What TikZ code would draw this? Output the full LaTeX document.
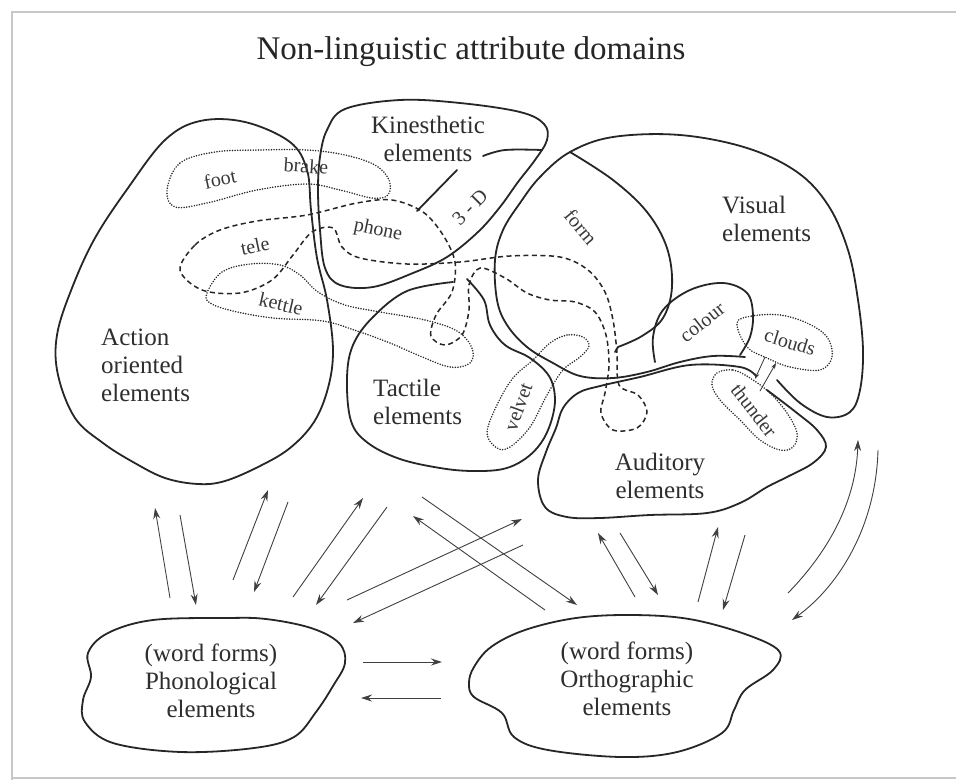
\documentclass[tikz,border=0pt]{standalone}
\usepackage{fontspec}
\setmainfont{Liberation Serif}
\usetikzlibrary{arrows.meta}
\begin{document}
\begin{tikzpicture}[x=1pt,y=-1pt,
  region/.style={line width=1.8pt, black!85, line join=round, line cap=round},
  dotloop/.style={line width=1.7pt, black!85, line cap=round, dash pattern=on 0pt off 2.6pt},
  dashloop/.style={line width=1.5pt, black!85, dash pattern=on 5pt off 3.5pt},
  arr/.style={line width=0.9pt, black!75, -{Stealth[length=11pt,width=7pt]}},
  sarr/.style={line width=0.8pt, black!80, -{Stealth[length=6pt,width=4pt]}},
  big/.style={font=\fontsize{25}{28}\selectfont, text=black!82, inner sep=0pt},
  small/.style={font=\fontsize{20}{22}\selectfont, text=black!78, inner sep=0pt}]
\useasboundingbox (0,0) rectangle (956,780);
\fill[white] (0,0) rectangle (956,780);
% page frame
\draw[black!22, line width=2.2pt] (12,780) -- (12,12) -- (956,12);
\draw[black!22, line width=1.6pt] (12,778) -- (956,778);

% ---------- title ----------
\node[font=\fontsize{33}{36}\selectfont, text=black!85, inner sep=0pt] (title) at (471,52) {Non-linguistic attribute domains};

% ---------- Action region ----------
\draw[region] plot[smooth cycle, tension=0.6] coordinates {
 (200,121) (245,122) (290,142) (307,170) (311,210) (317,258) (327,300) (333,350)
 (328,388) (314,422) (290,448) (260,466) (225,481) (198,484) (165,478) (133,462)
 (103,443) (75,418) (58,375) (57,335) (72,288) (95,238) (128,188) (165,140)};

% ---------- Kinesthetic region ----------
\draw[region] plot[smooth cycle, tension=0.6] coordinates {
 (320,157) (327,130) (345,109) (400,100) (460,103) (520,112) (544,124) (547,140)
 (535,160) (518,182) (500,207) (478,232) (447,257) (413,273) (373,287) (340,285)
 (325,268) (320,230) (318,190)};
\draw[region] plot[smooth, tension=0.6] coordinates {(483,156) (505,150) (542,150)};
\draw[region] (457,170) -- (417,211);

% ---------- Tactile region ----------
\draw[region] plot[smooth, tension=0.6] coordinates {
 (453,282) (407,291) (373,317) (353,345) (347,378) (351,421) (368,443) (400,459)
 (440,468) (472,471) (503,469) (525,459) (541,443) (551,422) (555,398) (549,376)
 (530,358) (505,345) (490,325) (484,300) (467,279)};

% ---------- Visual region ----------
\draw[region] plot[smooth, tension=0.6] coordinates {
 (777,380) (800,403) (827,417) (850,412) (860,390) (863,350) (858,300) (848,250)
 (828,205) (797,172) (747,148) (680,135) (613,137) (570,152) (540,177) (520,203)
 (503,230) (495,260) (497,300) (507,325) (527,347) (553,363) (580,376) (613,378)
 (647,372) (680,362) (713,356) (745,357)};
% form line
\draw[region] plot[smooth, tension=0.6] coordinates {
 (570,152) (613,180) (647,212) (667,248) (672,287) (663,318) (642,336) (618,347)};
\draw[region] (618,347) -- (615,352);
% colour lobe
\draw[region] plot[smooth, tension=0.6] coordinates {
 (655,362) (653,337) (663,310) (690,290) (723,283) (747,293) (753,315) (750,337) (740,355)};

% ---------- Auditory region ----------
\draw[region] plot[smooth, tension=0.6] coordinates {
 (767,390) (797,413) (817,430) (826,447) (813,463) (787,477) (767,487) (740,503)
 (707,513) (650,515) (600,518) (567,517) (545,507) (538,480) (546,452) (556,428)
 (563,408) (578,393) (600,386) (640,377) (690,365) (740,367) (756,376)};

% ---------- bottom blobs ----------
\draw[region] plot[smooth cycle, tension=0.6] coordinates {
 (226,618) (266,619) (311,628) (339,643) (345,663) (333,686) (316,712) (294,737)
 (254,748) (181,752) (113,743) (85,722) (83,700) (91,677) (88,653) (108,633) (153,620)};
\draw[region] plot[smooth cycle, tension=0.6] coordinates {
 (632,615) (689,619) (745,634) (779,651) (773,670) (745,690) (734,710) (722,733)
 (677,752) (621,757) (548,750) (514,737) (502,713) (474,697) (469,683) (474,667)
 (491,647) (525,630) (576,618)};

% ---------- dotted loops ----------
\draw[dotloop] plot[smooth cycle, tension=0.6] coordinates {
 (167,190) (180,163) (215,152) (260,150) (307,150) (345,155) (375,165) (389,180)
 (388,195) (372,198) (340,190) (307,184) (257,190) (207,203) (175,207)};
\draw[dotloop] plot[smooth cycle, tension=0.6] coordinates {
 (207,293) (222,272) (250,264) (280,265) (300,275) (318,292) (345,305) (380,312)
 (425,320) (457,331) (472,348) (470,363) (450,367) (420,356) (390,343) (357,331)
 (323,321) (273,318) (233,311) (210,303)};
\draw[dotloop] plot[smooth cycle, tension=0.6] coordinates {
 (583,337) (567,335) (550,343) (533,360) (513,378) (497,405) (487,433) (497,448)
 (510,447) (530,427) (547,395) (563,370) (580,357) (589,346)};
\draw[dotloop] plot[smooth cycle, tension=0.6] coordinates {
 (737,323) (752,316) (780,315) (807,323) (827,337) (832,357) (820,370) (790,367)
 (767,358) (747,347)};
\draw[dotloop] plot[smooth cycle, tension=0.6] coordinates {
 (717,373) (733,370) (750,378) (770,393) (787,413) (797,433) (793,447) (780,450)
 (760,440) (740,420) (720,400) (712,385)};

% ---------- dashed tele-phone loop ----------
\draw[dashloop] plot[smooth cycle, tension=0.55] coordinates {
 (180,270) (195,245) (220,230) (257,221) (307,215) (357,203) (392,200) (423,212)
 (443,235) (455,262) (452,292) (436,315) (431,336) (445,345) (462,335) (469,310)
 (469,285) (480,268) (505,278) (527,293) (550,300) (575,302) (595,312) (606,335)
 (609,365) (605,393) (601,413) (613,430) (637,428) (647,412) (638,395) (619,385)
 (617,353) (613,320) (605,292) (588,270) (560,257) (510,256) (460,262) (407,264)
 (360,258) (342,247) (333,228) (312,232) (293,255) (272,280) (240,293) (202,290)};

% ---------- labels ----------
\node[big, align=center] (kin) at (428,139) {Kinesthetic\\elements};
\node[big, align=left, anchor=west] (act) at (101,365) {Action\\oriented\\elements};
\node[big, align=left, anchor=west] (tac) at (373,402) {Tactile\\elements};
\node[big, align=left, anchor=west] (vis) at (722,219) {Visual\\elements};
\node[big, align=center] (aud) at (660,476) {Auditory\\elements};
\node[big, align=center] (pho) at (211,681) {(word forms)\\Phonological\\elements};
\node[big, align=center] (ort) at (627,679) {(word forms)\\Orthographic\\elements};

\node[small, rotate=12] (foot) at (220,179) {foot};
\node[small, rotate=-4] (brake) at (306,166) {brake};
\node[small, rotate=12] (tele) at (255,246) {tele};
\node[small, rotate=-12] (phone) at (378,231) {phone};
\node[small, rotate=-13] (kettle) at (281,304) {kettle};
\node[small, rotate=45] (threeD) at (470,207) {3 - D};
\node[small, rotate=-50] (form) at (581,227) {form};
\node[small, rotate=38] (colour) at (702,322) {colour};
\node[small, rotate=-17] (clouds) at (790,342) {clouds};
\node[small, rotate=-52] (thunder) at (754,410) {thunder};
\node[small, rotate=70] (velvet) at (518,407) {velvet};

% ---------- arrow end points ----------
\coordinate (a1t) at (170,598); \coordinate (a1h) at (155,508);
\coordinate (a2t) at (180,515); \coordinate (a2h) at (196,605);
\coordinate (a3t) at (233,580); \coordinate (a3h) at (268,490);
\coordinate (a4t) at (288,502); \coordinate (a4h) at (254,592);
\coordinate (a5t) at (293,597); \coordinate (a5h) at (363,498);
\coordinate (a6t) at (387,507); \coordinate (a6h) at (316,605);
\coordinate (a7t) at (347,600); \coordinate (a7h) at (522,519);
\coordinate (a8t) at (523,545); \coordinate (a8h) at (353,623);
\coordinate (a9t) at (422,497); \coordinate (a9h) at (577,605);
\coordinate (a10t) at (545,610); \coordinate (a10h) at (413,516);
\coordinate (a11t) at (635,597); \coordinate (a11h) at (598,533);
\coordinate (a12t) at (620,533); \coordinate (a12h) at (658,595);
\coordinate (a13t) at (698,602); \coordinate (a13h) at (718,527);
\coordinate (a14t) at (745,535); \coordinate (a14h) at (723,610);
\coordinate (a15t) at (788,593); \coordinate (a15h) at (858,440);
\coordinate (a16t) at (878,450); \coordinate (a16h) at (792,620);
\coordinate (h1t) at (363,662); \coordinate (h1h) at (442,662);
\coordinate (h2t) at (441,698); \coordinate (h2h) at (361,698);
\coordinate (c1t) at (765,357); \coordinate (c1h) at (755,379);
\coordinate (c2t) at (760,391); \coordinate (c2h) at (776,363);

\draw[arr] (a1t) -- (a1h);
\draw[arr] (a2t) -- (a2h);
\draw[arr] (a3t) -- (a3h);
\draw[arr] (a4t) -- (a4h);
\draw[arr] (a5t) -- (a5h);
\draw[arr] (a6t) -- (a6h);
\draw[arr] (a7t) -- (a7h);
\draw[arr] (a8t) -- (a8h);
\draw[arr] (a9t) -- (a9h);
\draw[arr] (a10t) -- (a10h);
\draw[arr] (a11t) -- (a11h);
\draw[arr] (a12t) -- (a12h);
\draw[arr] (a13t) -- (a13h);
\draw[arr] (a14t) -- (a14h);
\draw[arr] (a15t) .. controls (830,550) and (856,500) .. (a15h);
\draw[arr] (a16t) .. controls (876,525) and (840,585) .. (a16h);
\draw[arr] (h1t) -- (h1h);
\draw[arr] (h2t) -- (h2h);
\draw[sarr] (c1t) -- (c1h);
\draw[sarr] (c2t) -- (c2h);
\end{tikzpicture}
\end{document}
